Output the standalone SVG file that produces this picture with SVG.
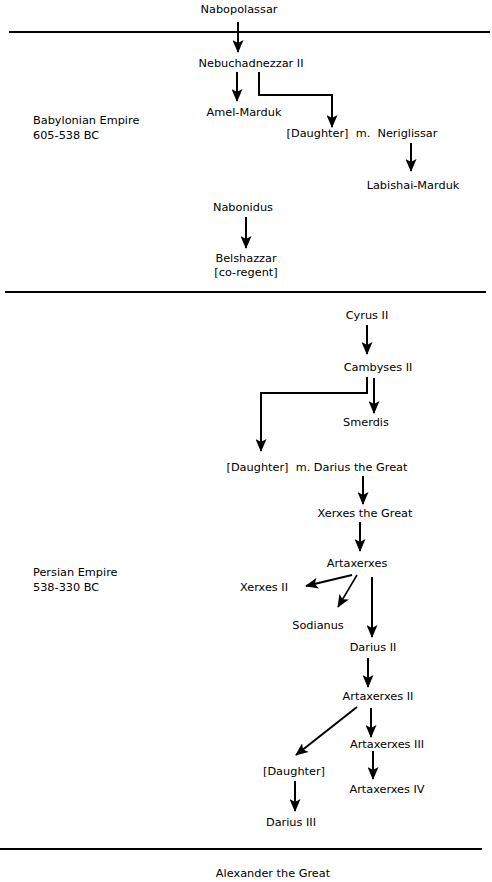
<svg xmlns="http://www.w3.org/2000/svg" width="492" height="882" viewBox="0 0 492 882">
<style>
text{font-family:"DejaVu Sans","Verdana",sans-serif;font-size:11.3px;fill:#000}
.c{text-anchor:middle}
.sep{stroke:#000;stroke-width:2;fill:none}
.a{stroke:#000;stroke-width:2;fill:none;marker-end:url(#ah)}
.t{stroke-width:1.5}
</style>
<defs>
<marker id="ah" viewBox="0 0 13 11" refX="12" refY="5.5" markerWidth="13" markerHeight="11" markerUnits="userSpaceOnUse" orient="auto">
<path d="M0,0 L13,5.5 L0,11 L3,5.5 Z" fill="#000"/>
</marker>
</defs>
<rect width="492" height="882" fill="#fff"/>
<g id="separators">
<line class="sep" x1="9" y1="32" x2="490" y2="32"/>
<line class="sep" x1="5" y1="292" x2="486" y2="292"/>
<line class="sep" x1="0" y1="849" x2="482" y2="849"/>
</g>
<g id="labels">
<text x="33" y="124">Babylonian Empire</text>
<text x="33" y="139">605-538 BC</text>
<text x="33" y="576">Persian Empire</text>
<text x="33" y="591">538-330 BC</text>
</g>
<g id="connectors">
<line class="a" x1="238" y1="22" x2="238" y2="52"/>
<line class="a" x1="237" y1="72" x2="237" y2="101"/>
<polyline class="a" points="259,72 259,95 332,95 332,127"/>
<line class="a" x1="411" y1="143" x2="411" y2="171"/>
<line class="a" x1="246" y1="217" x2="246" y2="248"/>
<line class="a" x1="367" y1="325" x2="367" y2="354"/>
<polyline class="a" points="367,377 367,393 261,393 261,451"/>
<line class="a" x1="374" y1="378" x2="374" y2="413"/>
<line class="a" x1="363" y1="476" x2="363" y2="504"/>
<line class="a" x1="360" y1="522" x2="360" y2="551"/>
<line class="a" x1="352" y1="575" x2="306" y2="586"/>
<line class="a t" x1="357" y1="575" x2="338" y2="607"/>
<line class="a" x1="372" y1="577" x2="372" y2="637"/>
<line class="a" x1="368" y1="658" x2="368" y2="687"/>
<line class="a" x1="357" y1="707" x2="296" y2="755"/>
<line class="a" x1="371" y1="708" x2="371" y2="737"/>
<line class="a" x1="373" y1="751" x2="373" y2="779"/>
<line class="a" x1="295" y1="781" x2="295" y2="811"/>
</g>
<g id="n-nabopolassar"><text class="c" x="239" y="13">Nabopolassar</text></g>
<g id="n-nebuchadnezzar"><text class="c" x="251" y="67">Nebuchadnezzar II</text></g>
<g id="n-amel"><text class="c" x="244" y="116">Amel-Marduk</text></g>
<g id="n-neriglissar"><text class="c" x="362" y="137" xml:space="preserve">[Daughter]  m.  Neriglissar</text></g>
<g id="n-labishai"><text class="c" x="413" y="189">Labishai-Marduk</text></g>
<g id="n-nabonidus"><text class="c" x="243" y="211">Nabonidus</text></g>
<g id="n-belshazzar"><text class="c" x="246" y="262">Belshazzar</text><text class="c" x="246" y="276">[co-regent]</text></g>
<g id="n-cyrus"><text class="c" x="367" y="319">Cyrus II</text></g>
<g id="n-cambyses"><text class="c" x="378" y="371">Cambyses II</text></g>
<g id="n-smerdis"><text class="c" x="366" y="426">Smerdis</text></g>
<g id="n-darius"><text class="c" x="317" y="471" xml:space="preserve">[Daughter]  m. Darius the Great</text></g>
<g id="n-xerxes"><text class="c" x="365" y="517">Xerxes the Great</text></g>
<g id="n-artaxerxes"><text class="c" x="357" y="567">Artaxerxes</text></g>
<g id="n-xerxes2"><text class="c" x="264" y="591">Xerxes II</text></g>
<g id="n-sodianus"><text class="c" x="318" y="629">Sodianus</text></g>
<g id="n-darius2"><text class="c" x="373" y="651">Darius II</text></g>
<g id="n-artaxerxes2"><text class="c" x="378" y="700">Artaxerxes II</text></g>
<g id="n-artaxerxes3"><text class="c" x="387" y="748">Artaxerxes III</text></g>
<g id="n-artaxerxes4"><text class="c" x="387" y="793">Artaxerxes IV</text></g>
<g id="n-daughter"><text class="c" x="294" y="775">[Daughter]</text></g>
<g id="n-darius3"><text class="c" x="291" y="826">Darius III</text></g>
<g id="n-alexander"><text class="c" x="273" y="877">Alexander the Great</text></g>
</svg>
